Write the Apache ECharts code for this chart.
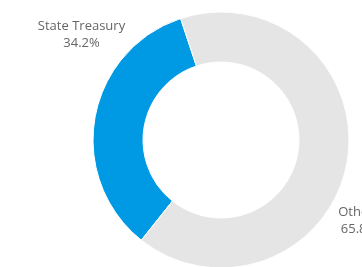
<!DOCTYPE html>
<html>
<head>
<meta charset="utf-8">
<script src="https://cdn.jsdelivr.net/npm/echarts@6/dist/echarts.min.js"></script>
<style>
  html, body { margin: 0; padding: 0; background: #fff; }
  #chart { width: 362px; height: 267px; }
</style>
</head>
<body>
<div id="chart"></div>
<script>
const names = ['State Treasury', 'Others']
const values = [34.2, 65.8]
const colors = ['#0099e3', '#e5e5e5']

// label anchor spots (text only, not slice geometry)
const labelSpots = [[81.5, 35], [359, 221]]

const chart = echarts.init(document.getElementById('chart'))
chart.setOption({
    backgroundColor: '#fff',
    animation: false,
    series: [{
        type: 'pie',
        center: [221, 140],
        radius: [78, 128],
        startAngle: 231.5,
        clockwise: true,
        data: names.map((n, i) => ({
            name: n,
            value: values[i],
            itemStyle: { color: colors[i] }
        })),
        itemStyle: {
            borderColor: '#fff',
            borderWidth: 1
        },
        label: {
            show: true,
            position: 'outside',
            formatter: p => p.name + '\n' + p.value.toFixed(1) + '%',
            fontFamily: 'Open Sans',
            fontSize: 13,
            lineHeight: 17,
            color: '#666',
            align: 'center',
            overflow: 'none',
            width: 200
        },
        labelLine: { show: false },
        labelLayout: p => ({
            x: labelSpots[p.dataIndex][0],
            y: labelSpots[p.dataIndex][1],
            align: 'center',
            verticalAlign: 'middle',
            hideOverlap: false
        }),
        emphasis: { disabled: true }
    }]
})
</script>
</body>
</html>
